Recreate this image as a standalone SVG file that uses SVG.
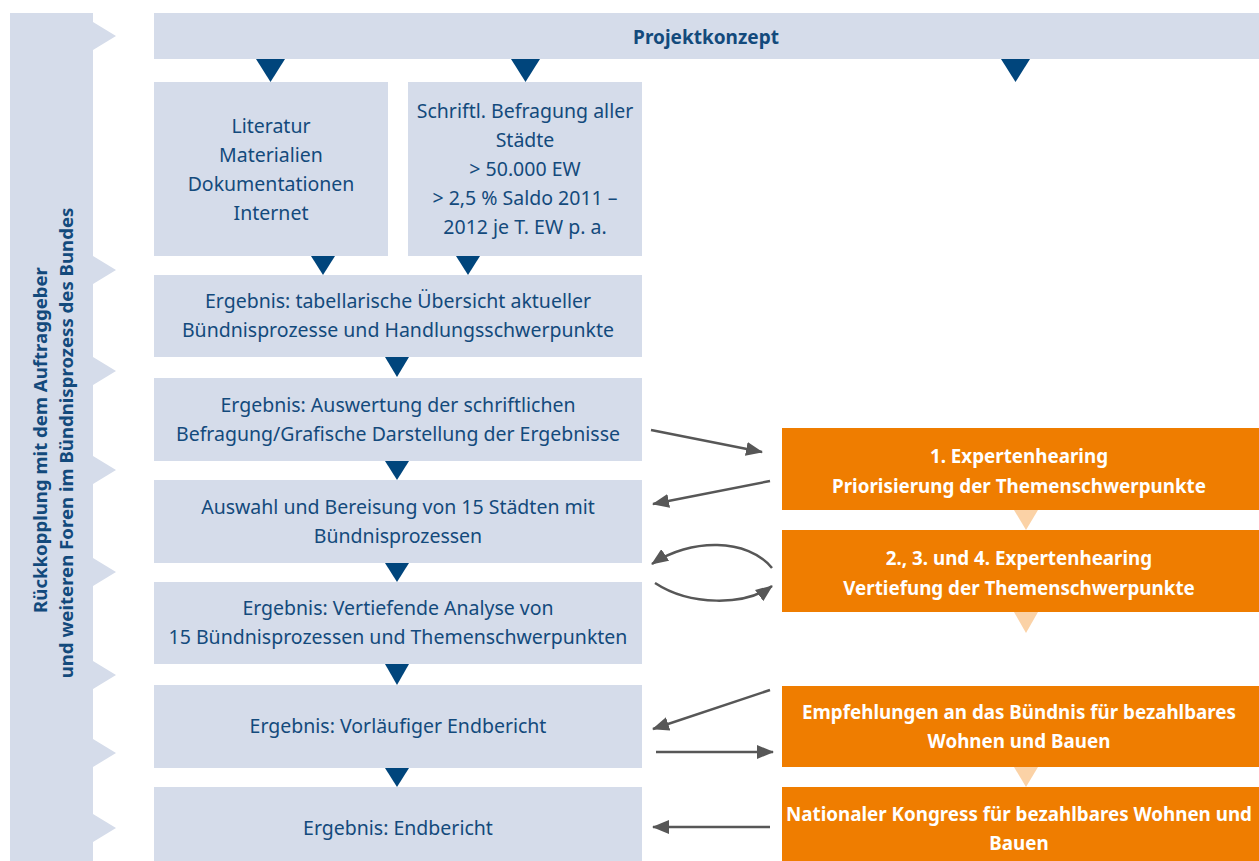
<svg xmlns="http://www.w3.org/2000/svg" width="1259" height="861" viewBox="0 0 1259 861">
  <defs>
    <style>
      .box { fill: #d5dcea; }
      .hot { fill: #ef7d00; }
      .down { fill: #00457c; }
      .down-lt { fill: #fbd2a6; }
      .t { font-family: "Noto Sans", sans-serif; font-size: 19.5px; fill: #134a7c; text-anchor: middle; }
      .tb { font-family: "Noto Sans", sans-serif; font-size: 19px; font-weight: bold; fill: #134a7c; text-anchor: middle; }
      .tw { font-family: "Noto Sans", sans-serif; font-size: 18.8px; font-weight: bold; fill: #ffffff; text-anchor: middle; }
      .side { font-family: "Noto Sans", sans-serif; font-size: 18.6px; font-weight: bold; fill: #134a7c; text-anchor: middle; }
      .link { fill: none; stroke: #575757; stroke-width: 2.5; marker-end: url(#head); }
    </style>
    <marker id="head" markerUnits="userSpaceOnUse" markerWidth="18" markerHeight="14" refX="16" refY="7" orient="auto">
      <path d="M0,0 L17,7 L0,14 Z" fill="#575757"/>
    </marker>
  </defs>

  <!-- side band with notches -->
  <g id="feedback">
    <path class="box" d="M10,13 H93 V22 L116,36 L93,50
      V256 L116,270 L93,284
      V357 L116,371 L93,385
      V456 L116,470 L93,484
      V558 L116,572 L93,586
      V661 L116,675 L93,689
      V739 L116,753 L93,767
      V814 L116,828 L93,842
      V861 H10 Z"/>
    <text class="side" transform="translate(47,440) rotate(-90)">Rückkopplung mit dem Auftraggeber</text>
    <text class="side" transform="translate(73,443) rotate(-90)">und weiteren Foren im Bündnisprozess des Bundes</text>
  </g>

  <g id="projektkonzept">
    <rect class="box" x="154" y="13" width="1105" height="46"/>
    <text class="tb" x="706" y="44">Projektkonzept</text>
  </g>

  <g id="literatur">
    <rect class="box" x="154" y="82" width="234" height="174"/>
    <text class="t" x="271" y="133">Literatur</text>
    <text class="t" x="271" y="162">Materialien</text>
    <text class="t" x="271" y="191">Dokumentationen</text>
    <text class="t" x="271" y="220">Internet</text>
  </g>

  <g id="befragung">
    <rect class="box" x="408" y="82" width="234" height="174"/>
    <text class="t" x="525" y="118">Schriftl. Befragung aller</text>
    <text class="t" x="525" y="147">Städte</text>
    <text class="t" x="525" y="176">&gt; 50.000 EW</text>
    <text class="t" x="525" y="205">&gt; 2,5 % Saldo 2011 –</text>
    <text class="t" x="525" y="234">2012 je T. EW p. a.</text>
  </g>

  <g id="uebersicht">
    <rect class="box" x="154" y="275" width="488" height="82"/>
    <text class="t" x="398" y="308">Ergebnis: tabellarische Übersicht aktueller</text>
    <text class="t" x="398" y="337">Bündnisprozesse und Handlungsschwerpunkte</text>
  </g>

  <g id="auswertung">
    <rect class="box" x="154" y="378" width="488" height="83"/>
    <text class="t" x="398" y="412">Ergebnis: Auswertung der schriftlichen</text>
    <text class="t" x="398" y="441">Befragung/Grafische Darstellung der Ergebnisse</text>
  </g>

  <g id="auswahl">
    <rect class="box" x="154" y="480" width="488" height="83"/>
    <text class="t" x="398" y="514">Auswahl und Bereisung von 15 Städten mit</text>
    <text class="t" x="398" y="543">Bündnisprozessen</text>
  </g>

  <g id="analyse">
    <rect class="box" x="154" y="582" width="488" height="82"/>
    <text class="t" x="398" y="615">Ergebnis: Vertiefende Analyse von</text>
    <text class="t" x="398" y="644">15 Bündnisprozessen und Themenschwerpunkten</text>
  </g>

  <g id="vorlaeufig">
    <rect class="box" x="154" y="685" width="488" height="83"/>
    <text class="t" x="398" y="733">Ergebnis: Vorläufiger Endbericht</text>
  </g>

  <g id="endbericht">
    <rect class="box" x="154" y="787" width="488" height="74"/>
    <text class="t" x="398" y="835">Ergebnis: Endbericht</text>
  </g>

  <g id="hearing1">
    <rect class="hot" x="782" y="428" width="477" height="82"/>
    <text class="tw" x="1019" y="463">1. Expertenhearing</text>
    <text class="tw" x="1019" y="493">Priorisierung der Themenschwerpunkte</text>
  </g>

  <g id="hearing2">
    <rect class="hot" x="782" y="530" width="477" height="82"/>
    <text class="tw" x="1019" y="565">2., 3. und 4. Expertenhearing</text>
    <text class="tw" x="1019" y="595">Vertiefung der Themenschwerpunkte</text>
  </g>

  <g id="empfehlungen">
    <rect class="hot" x="782" y="686" width="477" height="81"/>
    <text class="tw" x="1019" y="719">Empfehlungen an das Bündnis für bezahlbares</text>
    <text class="tw" x="1019" y="748">Wohnen und Bauen</text>
  </g>

  <g id="kongress">
    <rect class="hot" x="782" y="787" width="477" height="74"/>
    <text class="tw" x="1019" y="821">Nationaler Kongress für bezahlbares Wohnen und</text>
    <text class="tw" x="1019" y="850">Bauen</text>
  </g>

  <g id="connectors">
    <!-- flow triangles -->
    <path class="down" d="M256,59 H285 L270.5,82 Z"/>
    <path class="down" d="M511,59 H540 L525.5,82 Z"/>
    <path class="down" d="M1001,59 H1030 L1015.5,82 Z"/>
    <path class="down" d="M311,256 H335 L323,275 Z"/>
    <path class="down" d="M456,256 H480 L468,275 Z"/>
    <path class="down" d="M385,357 H409 L397,377 Z"/>
    <path class="down" d="M385,461 H409 L397,480 Z"/>
    <path class="down" d="M385,563 H409 L397,582 Z"/>
    <path class="down" d="M385,664 H409 L397,685 Z"/>
    <path class="down" d="M385,768 H409 L397,787 Z"/>
    <path class="down-lt" d="M1014,510 H1038 L1026,530 Z"/>
    <path class="down-lt" d="M1014,612 H1038 L1026,633 Z"/>
    <path class="down-lt" d="M1014,767 H1038 L1026,787 Z"/>

    <!-- exchange with the hearings -->
    <path class="link" d="M651,430 L762,452"/>
    <path class="link" d="M770,481 L653,504"/>
    <path class="link" d="M772,568 C748,538 690,538 652,564"/>
    <path class="link" d="M655,583 C690,606 745,606 772,586"/>
    <path class="link" d="M770,690 L653,729"/>
    <path class="link" d="M656,752 L773,752"/>
    <path class="link" d="M770,827 L653,827"/>
  </g>
</svg>
